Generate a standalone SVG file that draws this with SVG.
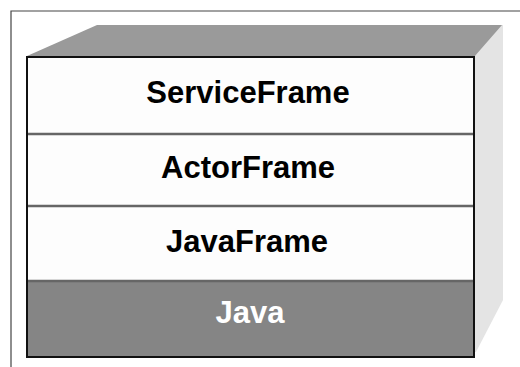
<svg xmlns="http://www.w3.org/2000/svg" width="520" height="367" viewBox="0 0 520 367">
<style>
.lbl{font-family:"Liberation Sans",Arial,sans-serif;font-weight:bold;font-size:31px;text-anchor:middle}
.div{stroke:#666;stroke-width:2.5}
</style>
<rect width="520" height="367" fill="#fff"/>
<g id="frame" fill="none" stroke="#444" stroke-width="1.2">
<polyline points="11,367 11,11 520,11"/>
</g>
<g id="box3d">
<polygon points="27,56 97,25 503,25 476,56" fill="#9a9a9a"/>
<polygon points="474,57 502,25 503,25 503,300 476,352 474,352" fill="#e4e4e4"/>
</g>
<g id="ServiceFrame">
<rect x="27" y="57" width="447" height="77" fill="#fdfdfd"/>
<text class="lbl" x="248" y="103">ServiceFrame</text>
</g>
<g id="ActorFrame">
<rect x="27" y="134" width="447" height="72" fill="#fdfdfd"/>
<text class="lbl" x="248" y="178">ActorFrame</text>
</g>
<g id="JavaFrame">
<rect x="27" y="206" width="447" height="75" fill="#fdfdfd"/>
<text class="lbl" x="247" y="252">JavaFrame</text>
</g>
<g id="Java">
<rect x="27" y="281" width="447" height="76" fill="#858585"/>
<text class="lbl" x="250" y="323" fill="#fff">Java</text>
</g>
<g id="connectors">
<line class="div" x1="27" y1="134" x2="474" y2="134"/>
<line class="div" x1="27" y1="206" x2="474" y2="206"/>
<line class="div" x1="27" y1="281" x2="474" y2="281"/>
<rect x="27" y="57" width="447" height="300" fill="none" stroke="#111" stroke-width="2"/>
</g>
</svg>
